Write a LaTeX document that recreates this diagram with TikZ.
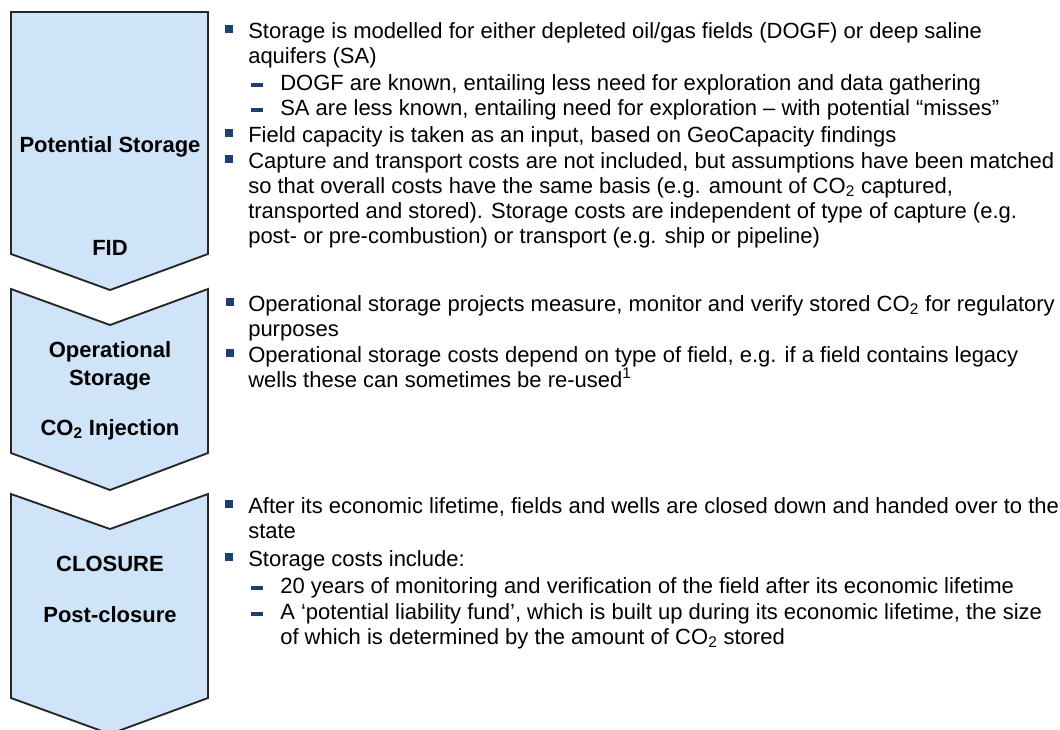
\documentclass[tikz,border=0pt]{standalone}
\usepackage{fontspec}
\setmainfont{Liberation Sans}
\definecolor{chevfill}{HTML}{CFE4F8}
\definecolor{bulletblue}{HTML}{1F3F73}

\begin{document}
\begin{tikzpicture}[
x=0.75pt, y=-0.75pt,
chevron/.style={
  draw=black!85,
  fill=chevfill,
  line width=1.4pt,
  line join=miter
},
stage/.style={font=\fontsize{16.5}{20.3}\selectfont\bfseries,align=center,anchor=base,inner sep=0pt},
item/.style={font=\fontsize{16.5}{18.75}\selectfont,align=left,anchor=base west,inner sep=0pt},
sqbullet/.style={fill=bulletblue,inner sep=0pt,minimum size=6pt},
dashbullet/.style={fill=bulletblue,inner sep=0pt,minimum width=9.5pt,minimum height=2.4pt}
]
\useasboundingbox (0,0) rectangle (1060,729);

% the three stages
\draw [chevron] (11,12) -- (208,12) -- (208,254) -- (110,290) -- (11,254) -- cycle;
\draw [chevron] (11,289) -- (110,325) -- (208,289) -- (208,453) -- (110,490) -- (11,453) -- cycle;
\draw [chevron] (11,494) -- (110,529) -- (208,494) -- (208,698) -- (110,734) -- (11,698) -- cycle;

% stage names (base = last line)
\node (potential) at (110,152) [stage] {Potential Storage};
\node (fid) at (110,255) [stage] {FID};
\node (operational) at (110,385) [stage] {Operational\\Storage};
\node (injection) at (110,435) [stage] {CO\textsubscript{2} Injection};
\node (closure) at (110,571) [stage] {CLOSURE};
\node (postclosure) at (110,622) [stage] {Post-closure};

% potential storage
\node (ba1) at (229,29) [sqbullet] {};
\node (ta1) at (248,63) [item] {Storage is modelled for either depleted oil/gas fields (DOGF) or deep saline\\aquifers (SA)};
\node (da1) at (257,85) [dashbullet] {};
\node (sa1) at (280,90) [item] {DOGF are known, entailing less need for exploration and data gathering};
\node (da2) at (257,110) [dashbullet] {};
\node (sa2) at (280,115) [item] {SA are less known, entailing need for exploration – with potential “misses”};
\node (ba2) at (229,133) [sqbullet] {};
\node (ta2) at (248,142) [item] {Field capacity is taken as an input, based on GeoCapacity findings};
\node (ba3) at (229,159) [sqbullet] {};
\node (ta3) at (248,243) [item] {Capture and transport costs are not included, but assumptions have been matched\\so that overall costs have the same basis (e.g. amount of CO\textsubscript{2} captured,\\transported and stored). Storage costs are independent of type of capture (e.g.\\post- or pre-combustion) or transport (e.g. ship or pipeline)};

% operational storage
\node (bb1) at (230,302) [sqbullet] {};
\node (tb1) at (248,336) [item] {Operational storage projects measure, monitor and verify stored CO\textsubscript{2} for regulatory\\purposes};
\node (bb2) at (230,353) [sqbullet] {};
\node (tb2) at (248,387) [item] {Operational storage costs depend on type of field, e.g. if a field contains legacy\\wells these can sometimes be re-used\textsuperscript{1}};

% closure
\node (bc1) at (229,504) [sqbullet] {};
\node (tc1) at (248,538) [item] {After its economic lifetime, fields and wells are closed down and handed over to the\\state};
\node (bc2) at (229,557) [sqbullet] {};
\node (tc2) at (248,566) [item] {Storage costs include:};
\node (dc1) at (257,588) [dashbullet] {};
\node (sc1) at (280,593) [item] {20 years of monitoring and verification of the field after its economic lifetime};
\node (dc2) at (257,614) [dashbullet] {};
\node (sc2) at (280,644) [item] {A ‘potential liability fund’, which is built up during its economic lifetime, the size\\of which is determined by the amount of CO\textsubscript{2} stored};

\end{tikzpicture}
\end{document}
